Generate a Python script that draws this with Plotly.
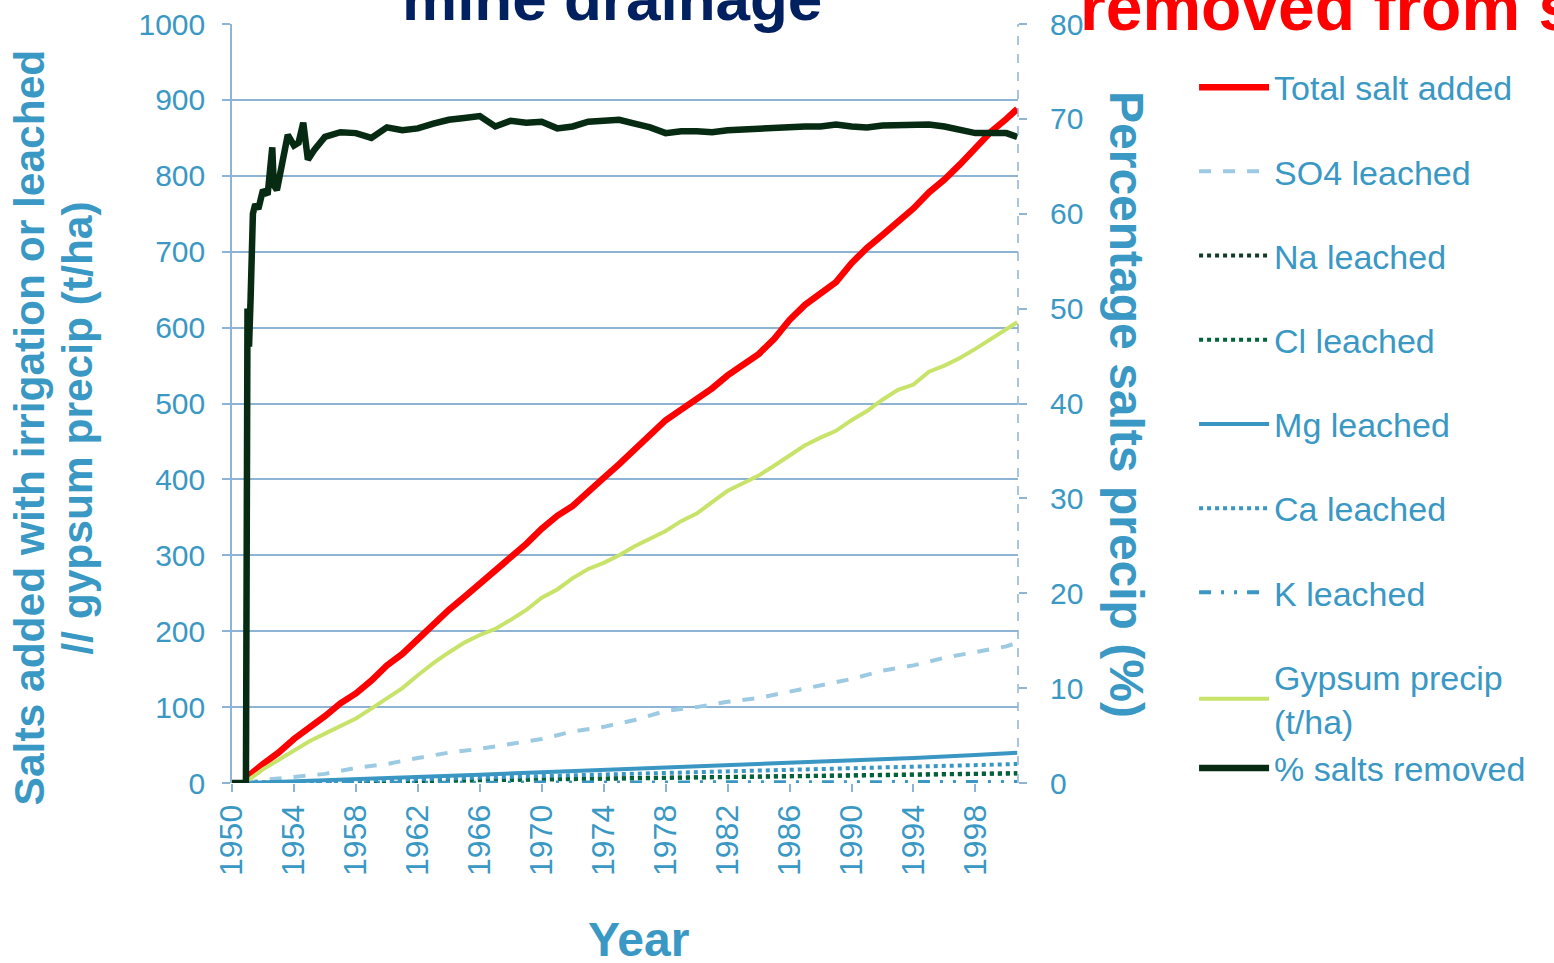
import plotly.graph_objects as go

# ---------------- data ----------------
YEARS_ANNUAL = [1950.9] + list(range(1951, 2001)) + [2000.7]
total_salt = [0, 8, 25, 40, 58, 72, 88, 105, 118, 135, 155, 170, 190, 210, 228, 245, 262, 280, 298, 315,
              335, 352, 365, 385, 402, 420, 440, 460, 478, 492, 505, 520, 537, 552, 565, 585, 610, 630,
              645, 660, 685, 705, 722, 740, 757, 778, 795, 815, 836, 858, 875, 888]
gypsum = [0, 3, 18, 30, 43, 55, 65, 75, 85, 98, 112, 125, 142, 158, 172, 185, 195, 203, 215, 228,
          244, 255, 270, 282, 290, 300, 312, 322, 332, 345, 355, 370, 385, 395, 405, 418, 432, 445,
          455, 464, 478, 490, 505, 518, 525, 542, 550, 560, 572, 585, 598, 607]

YEARS_BIENNIAL = [1950.9] + list(range(1952, 2001, 2)) + [2000.7]
so4 = [0, 4, 8, 12, 20, 25, 33, 40, 45, 52, 58, 68, 74, 83, 95, 100, 107, 112, 120, 128, 137, 148,
       155, 165, 172, 180, 185]

YEARS_QUAD = [1950.9] + list(range(1954, 1999, 4)) + [2000.7]
mg = [0, 2, 5, 8, 11, 14, 17, 21, 24, 27, 30, 33, 37, 40]
ca = [0, 1, 3, 5, 7, 9, 11, 13, 15, 17, 19, 21, 23, 25]
na = [0, 1, 2, 3, 4, 5, 6, 7, 8, 9, 10, 10.5, 11.5, 13]
cl = [0, 1, 2, 2.5, 3.5, 4.5, 5.5, 6.5, 7.5, 8.5, 9.5, 10.5, 11.5, 12.5]
k = [0, 0.2, 0.3, 0.4, 0.5, 0.6, 0.7, 0.8, 0.9, 1.0, 1.1, 1.2, 1.3, 1.4]

YEARS_PCT = [1950, 1950.9, 1951.0, 1951.1, 1951.2, 1951.35, 1951.5, 1951.7, 1952.0, 1952.3, 1952.6,
             1952.7, 1952.9, 1953.3, 1953.6, 1954.0, 1954.3, 1954.6, 1954.9, 1955.3,
             1956, 1957, 1958, 1959, 1960, 1961, 1962, 1963, 1964, 1965, 1966, 1967, 1968, 1969,
             1970, 1971, 1972, 1973, 1974, 1975, 1976, 1977, 1978, 1979, 1980, 1981, 1982, 1983,
             1984, 1985, 1986, 1987, 1988, 1989, 1990, 1991, 1992, 1993, 1994, 1995, 1996, 1997,
             1998, 1999, 2000, 2000.7]
pct_removed = [0, 0, 50, 46, 51, 60, 61, 60.5, 62.5, 62, 67, 63, 62.5, 65.7, 68.3, 67.2, 67.5, 69.6,
               65.7, 66.7,
               68.1, 68.6, 68.5, 68.0, 69.1, 68.8, 69.0, 69.5, 69.9, 70.1, 70.3, 69.2, 69.8, 69.6,
               69.7, 69.0, 69.2, 69.7, 69.8, 69.9, 69.5, 69.1, 68.5, 68.7, 68.7, 68.6, 68.8, 68.9,
               69.0, 69.1, 69.2, 69.2, 69.2, 69.4, 69.2, 69.1, 69.3, 69.3, 69.3, 69.4, 69.2, 68.8,
               68.5, 68.5, 68.5, 68.1]

X_TICKS = list(range(1950, 2000, 4))

# ---------------- style ----------------
FONT = "Liberation Sans, Arial, sans-serif"
TXT = "#3A98C4"
GRID = "#8DB4D4"
BLUE = "#3A96C2"

fig = go.Figure()

def add(x, y, name, color, width, dash="solid", axis="y", group=None):
    fig.add_trace(go.Scatter(x=x, y=y, name=name, mode="lines", yaxis=axis,
                             legendgroup=group or name,
                             line=dict(color=color, width=width, dash=dash)))

add(YEARS_ANNUAL, total_salt, "Total salt added", "#FF0000", 6.5)
add(YEARS_BIENNIAL, so4, "SO4 leached", "#9CCAE2", 4, "dash")
add(YEARS_QUAD, na, "Na leached", "#0E3B26", 4, "dot")
add(YEARS_QUAD, cl, "Cl leached", "#00643A", 4, "dot")
add(YEARS_QUAD, mg, "Mg leached", BLUE, 4)
add(YEARS_QUAD, ca, "Ca leached", BLUE, 4, "dot")
add(YEARS_QUAD, k, "K leached", BLUE, 4, "12px,10px,3px,10px,3px,10px")
add(YEARS_ANNUAL, gypsum, "Gypsum precip<br>(t/ha)", "#C8E36A", 4, group="last")
add(YEARS_PCT, pct_removed, "% salts removed", "#062A12", 6.5, axis="y2", group="last")

fig.update_layout(
    width=1554, height=963,
    margin=dict(l=232, r=536, t=24, b=180, autoexpand=False),
    plot_bgcolor="white", paper_bgcolor="white",
    font=dict(family=FONT, color=TXT),
    showlegend=True,
    legend=dict(x=1.224, y=0.9545, xanchor="left", yanchor="top",
                font=dict(size=34, color=TXT, family=FONT),
                tracegroupgap=37, itemwidth=70, bgcolor="rgba(0,0,0,0)"),
    xaxis=dict(range=[1950, 2000.75], tickmode="array", tickvals=X_TICKS,
               ticktext=[str(v) for v in X_TICKS], tickangle=-90,
               ticks="outside", ticklen=8, tickcolor=GRID, tickwidth=1.5,
               ticklabelstandoff=0, automargin=False, ticklabeloverflow="allow",
               showgrid=False, zeroline=False, showline=False,
               tickfont=dict(size=32, color=TXT)),
    yaxis=dict(range=[0, 1000], dtick=100, showgrid=True, gridcolor=GRID, gridwidth=1.5,
               showline=True, linecolor=GRID, linewidth=1.5, zeroline=False,
               ticks="outside", ticklen=8, tickcolor=GRID, tickwidth=1.5,
               ticklabelstandoff=11, automargin=False, ticklabeloverflow="allow",
               tickfont=dict(size=30, color=TXT)),
    yaxis2=dict(range=[0, 80], dtick=10, overlaying="y", side="right", showgrid=False,
                zeroline=False, showline=False, ticks="outside", ticklen=8,
                tickcolor=GRID, tickwidth=1.5, ticklabelstandoff=17, automargin=False,
                ticklabeloverflow="allow", tickfont=dict(size=30, color=TXT)),
    shapes=[dict(type="line", xref="paper", yref="paper", x0=1, x1=1, y0=0, y1=1,
                 line=dict(color=GRID, width=1.5, dash="dash"))],
    annotations=[
        dict(text="<b>mine drainage</b>", xref="paper", yref="paper", x=0.484, y=1.034,
             xanchor="center", yanchor="middle", showarrow=False,
             font=dict(size=62, color="#002060", family=FONT)),
        dict(text="<b>removed from soil</b>", xref="paper", yref="paper", x=1.076, y=1.022,
             xanchor="left", yanchor="middle", showarrow=False,
             font=dict(size=66, color="#FF0000", family=FONT)),
        dict(text="<b>Salts added with irrigation or leached</b>", xref="paper", yref="paper",
             x=-0.2575, y=0.468, xanchor="center", yanchor="middle", showarrow=False,
             textangle=-90, font=dict(size=42.5, color=TXT, family=FONT)),
        dict(text="<b>// gypsum precip (t/ha)</b>", xref="paper", yref="paper",
             x=-0.196, y=0.468, xanchor="center", yanchor="middle", showarrow=False,
             textangle=-90, font=dict(size=42.5, color=TXT, family=FONT)),
        dict(text="<b>Percentage salts precip (%)</b>", xref="paper", yref="paper",
             x=1.1387, y=0.4993, xanchor="center", yanchor="middle", showarrow=False,
             textangle=90, font=dict(size=48, color=TXT, family=FONT)),
        dict(text="<b>Year</b>", xref="paper", yref="paper", x=0.517, y=-0.206,
             xanchor="center", yanchor="middle", showarrow=False,
             font=dict(size=48, color=TXT, family=FONT)),
    ],
)

fig.write_html("out.html", config={"displayModeBar": False},
               post_script="document.body.style.margin='0';")
